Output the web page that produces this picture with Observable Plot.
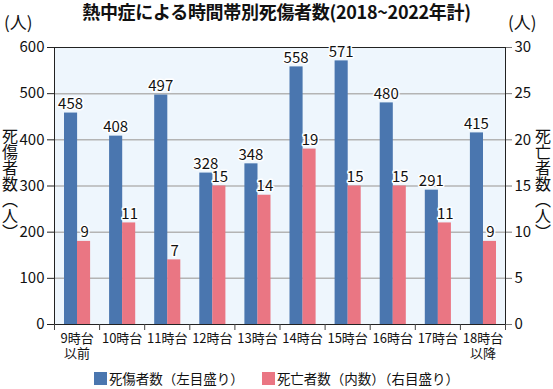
<!DOCTYPE html>
<html><head><meta charset="utf-8">
<script src="https://cdn.jsdelivr.net/npm/d3@7"></script>
<script src="https://cdn.jsdelivr.net/npm/@observablehq/plot@0.6"></script>
<style>
body{margin:0;background:#fff;font-family:"Noto Sans CJK JP",sans-serif;}
#wrap{position:relative;width:553px;height:389px;overflow:hidden;}
.abs{position:absolute;white-space:nowrap;color:#111;}
#title{top:0;left:0;width:553px;text-align:center;font-weight:bold;font-size:18px;line-height:23px;letter-spacing:-0.3px;}
#chart{position:absolute;top:20px;left:0;}
.vt{writing-mode:vertical-rl;font-size:16px;line-height:18px;}
#legend{top:369px;left:0;width:553px;text-align:center;font-size:13.5px;line-height:18px;}
.sw{display:inline-block;width:13px;height:13px;vertical-align:-1px;margin-right:2px;}
</style></head>
<body>
<div id="wrap">
  <div id="title" class="abs">熱中症による時間帯別死傷者数(2018~2022年計)</div>
  <div id="chart"></div>
  <div class="abs" style="top:12px;left:4px;font-size:17px;line-height:20px;">(人)</div>
  <div class="abs" style="top:12px;left:508px;font-size:17px;line-height:20px;">(人)</div>
  <div class="abs vt" style="top:128px;left:1px;">死傷者数（人）</div>
  <div class="abs vt" style="top:128px;left:534px;">死亡者数（人）</div>
  <div id="legend" class="abs"><span class="sw" style="background:#4a76af"></span>死傷者数（左目盛り）<span style="display:inline-block;width:18px"></span><span class="sw" style="background:#ea7683"></span>死亡者数（内数）（右目盛り）</div>
</div>
<script>
const categories = ["9時台\n以前","10時台","11時台","12時台","13時台","14時台","15時台","16時台","17時台","18時台\n以降"];
const injured = [458,408,497,328,348,558,571,480,291,415];
const deaths = [9,11,7,15,14,19,15,15,11,9];
const leftTicks = [0,100,200,300,400,500,600];
const rightTicks = [0,5,10,15,20,25,30];

const ratio = leftTicks[leftTicks.length-1] / rightTicks[rightTicks.length-1];
const rows = categories.map((c,i)=>({i, c, injured: injured[i], deaths: deaths[i], dScaled: deaths[i]*ratio}));
const numFont = '"Liberation Sans Narrow","Noto Sans CJK JP",sans-serif';
const blue = "#4a76af", pink = "#ea7683";

const plot = Plot.plot({
  width: 553, height: 342,
  marginTop: 27, marginBottom: 38, marginLeft: 54, marginRight: 48,
  x: {type: "linear", domain: [0, categories.length], axis: null},
  y: {domain: [0, 600], axis: null},
  marks: [
    Plot.frame({fill: "#eef6fd", stroke: null}),
    Plot.ruleY(leftTicks.slice(1, -1), {stroke: "#b4b4b4", strokeWidth: 1.5}),
    Plot.ruleY([600], {stroke: "#222", strokeWidth: 1}),
    Plot.rectY(rows, {x1: d => d.i, x2: d => d.i + 1, y: "injured", fill: blue, insetLeft: 10, insetRight: 22}),
    Plot.rectY(rows, {x1: d => d.i, x2: d => d.i + 1, y: "dScaled", fill: pink, insetLeft: 23, insetRight: 9}),
    Plot.text(rows, {x: d => d.i + 0.5, y: "injured", text: d => String(d.injured), dx: -6.5, dy: -9, fontSize: 15, fontFamily: numFont, fill: "#111", stroke: "white", strokeWidth: 3}),
    Plot.text(rows, {x: d => d.i + 0.5, y: "dScaled", text: d => String(d.deaths), dx: 7.5, dy: -9, fontSize: 15, fontFamily: numFont, fill: "#111", stroke: "white", strokeWidth: 3}),
    Plot.ruleX([0, categories.length], {stroke: "#222", strokeWidth: 1}),
    Plot.ruleY([0], {stroke: "#222", strokeWidth: 1}),
    Plot.axisY(leftTicks, {anchor: "left", tickSize: 7, tickPadding: 3, fontSize: 15, fontFamily: numFont, stroke: "#222", fill: "#111"}),
    Plot.axisY(rightTicks.map(d => d * ratio), {anchor: "right", tickSize: 6, tickPadding: 3, tickFormat: d => String(d / ratio), fontSize: 15, fontFamily: numFont, stroke: "#777", fill: "#111"}),
    Plot.axisX(d3.range(categories.length + 1), {anchor: "bottom", tickSize: 6, tickFormat: () => "", stroke: "#444"}),
    Plot.text(rows, {x: d => d.i + 0.5, y: 0, text: "c", dy: 7, lineAnchor: "top", lineHeight: 1.2, fontSize: 13, fontFamily: numFont, fill: "#111"})
  ]
});
document.getElementById("chart").appendChild(plot);
</script>
</body></html>
